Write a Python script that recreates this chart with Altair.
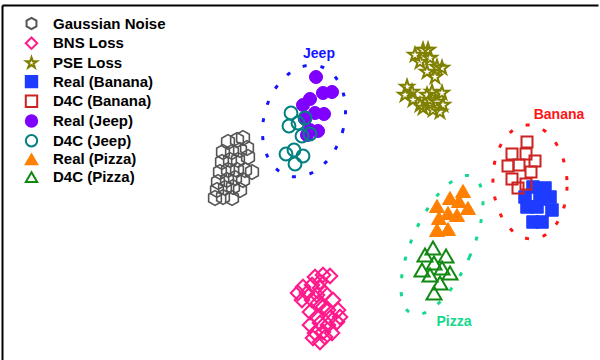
import altair as alt
import numpy as np
import pandas as pd

# ---------------- data ----------------
series_names = ["Gaussian Noise", "BNS Loss", "PSE Loss", "Real (Banana)", "D4C (Banana)",
                "Real (Jeep)", "D4C (Jeep)", "Real (Pizza)", "D4C (Pizza)"]

gauss_x = [228, 237, 243, 223, 232, 240, 247, 222, 230, 238, 248, 220, 228, 237, 245, 252, 218, 227, 235, 243, 217, 225, 233, 240, 215, 223, 232]
gauss_y = [142, 140, 138, 152, 152, 150, 148, 162, 160, 160, 157, 172, 170, 170, 170, 172, 182, 180, 178, 180, 190, 188, 187, 190, 198, 197, 198]

bns_x = [315, 323, 330, 320, 303, 312, 320, 298, 307, 317, 325, 302, 312, 333, 318, 323, 310, 328, 338, 317, 330, 340, 310, 320, 328, 337, 315, 323, 332, 320, 313, 325]
bns_y = [277, 275, 276, 282, 287, 285, 288, 293, 293, 295, 293, 300, 300, 300, 303, 307, 312, 310, 310, 317, 318, 317, 325, 323, 325, 322, 333, 332, 333, 342, 338, 337]

pse_x = [415, 423, 428, 420, 430, 437, 442, 427, 435, 407, 412, 405, 413, 420, 432, 442, 430, 437, 443, 423, 433, 440, 427]
pse_y = [55, 50, 50, 62, 58, 67, 68, 72, 77, 87, 92, 95, 100, 105, 92, 93, 100, 102, 105, 108, 110, 112, 95]

real_banana_x = [533, 545, 525, 550, 540, 527, 537, 552, 533, 542]
real_banana_y = [187, 188, 197, 197, 199, 207, 207, 210, 222, 222]

d4c_banana_x = [527, 512, 526, 535, 508, 519, 531, 512, 526, 518]
d4c_banana_y = [142, 154, 154, 161, 166, 165, 172, 179, 184, 188]

real_jeep_x = [316, 323, 332, 310, 303, 315, 324, 305, 310, 318, 307]
real_jeep_y = [77, 93, 92, 99, 105, 113, 114, 119, 130, 131, 135]

d4c_jeep_x = [291, 289, 298, 305, 302, 310, 286, 294, 303, 295]
d4c_jeep_y = [113, 126, 123, 118, 136, 134, 154, 150, 156, 164]

real_pizza_x = [463, 450, 459, 468, 437, 448, 457, 439, 437, 448]
real_pizza_y = [191, 198, 201, 208, 206, 213, 215, 218, 230, 229]

d4c_pizza_x = [433, 425, 446, 434, 422, 442, 430, 450, 440, 434]
d4c_pizza_y = [248, 255, 256, 263, 270, 268, 275, 273, 283, 293]

# cluster ellipses: centre, semi-axes, tilt (degrees from vertical)
ell_names = ["Jeep", "Banana", "Pizza"]
ell_cx = [304, 530, 442]
ell_cy = [121, 182, 245]
ell_major = [57, 57, 75]
ell_minor = [40, 37, 30]
ell_tilt = [16, -3, 24]
ell_colors = ["#1414ff", "#ff1414", "#14d88c"]

# cluster labels
lab_text = ["Jeep", "Banana", "Pizza"]
lab_x = [319, 559, 454]
lab_y = [54, 115, 322]

# ---------------- styles ----------------
hexagon = "M0,-1L0.866,-0.5L0.866,0.5L0,1L-0.866,0.5L-0.866,-0.5Z"
star = ("M0,-1L0.2245,-0.309L0.951,-0.309L0.363,0.118L0.588,0.809L0,0.382"
        "L-0.588,0.809L-0.363,0.118L-0.951,-0.309L-0.2245,-0.309Z")
shapes = [hexagon, "diamond", star, "square", "square", "circle", "circle", "triangle-up", "triangle-up"]
strokes = ["#555555", "#ff1a8c", "#808000", "#1e3cff", "#cc2222", "#8000ff", "#008080", "#ff8000", "#118811"]
fills = ["transparent", "transparent", "transparent", "#1e3cff", "transparent", "#8000ff", "transparent", "#ff8000", "transparent"]
sizes = [215, 210, 200, 155, 121, 170, 165, 225, 225]
widths = [1.6, 2, 2, 1, 2, 1, 2, 1, 2]

all_x = [gauss_x, bns_x, pse_x, real_banana_x, d4c_banana_x, real_jeep_x, d4c_jeep_x, real_pizza_x, d4c_pizza_x]
all_y = [gauss_y, bns_y, pse_y, real_banana_y, d4c_banana_y, real_jeep_y, d4c_jeep_y, real_pizza_y, d4c_pizza_y]

rows = []
k = 0
for i, name in enumerate(series_names):
    for xv, yv in zip(all_x[i], all_y[i]):
        rows.append({"series": name, "x": xv, "y": yv, "size": sizes[i], "sw": widths[i], "k": k})
        k += 1
pts = pd.DataFrame(rows)

erows = []
t = np.linspace(0, 2 * np.pi, 121)
for i, name in enumerate(ell_names):
    phi = np.radians(ell_tilt[i])
    a, b = ell_major[i], ell_minor[i]
    ex = ell_cx[i] + b * np.cos(t) * np.cos(phi) + a * np.sin(t) * np.sin(phi)
    ey = ell_cy[i] + b * np.cos(t) * np.sin(phi) - a * np.sin(t) * np.cos(phi)
    for j, (px, py) in enumerate(zip(ex, ey)):
        erows.append({"g": name, "x": float(px), "y": float(py), "i": j, "col": ell_colors[i]})
ell = pd.DataFrame(erows)

labels = pd.DataFrame({"text": lab_text, "x": lab_x, "y": lab_y, "col": ell_colors})

W, H = 596, 355
xs = alt.Scale(domain=[2, 598], nice=False, zero=False)
ys = alt.Scale(domain=[360, 5], nice=False, zero=False)
frame_axis = dict(domain=True, domainColor="black", domainWidth=2, ticks=False,
                  labels=False, grid=False, title=None)

ellipses = alt.Chart(ell).mark_line(strokeWidth=3, strokeDash=[4, 14], strokeCap="butt").encode(
    x=alt.X("x:Q", scale=xs, axis=alt.Axis(orient="top", **frame_axis)),
    y=alt.Y("y:Q", scale=ys, axis=alt.Axis(orient="left", **frame_axis)),
    detail="g:N",
    order="i:Q",
    stroke=alt.Stroke("col:N", scale=None),
)

points = alt.Chart(pts).mark_point(opacity=1, filled=False).encode(
    x=alt.X("x:Q", scale=xs),
    y=alt.Y("y:Q", scale=ys),
    shape=alt.Shape("series:N", scale=alt.Scale(domain=series_names, range=shapes),
                    sort=series_names, title=None),
    stroke=alt.Stroke("series:N", scale=alt.Scale(domain=series_names, range=strokes),
                      sort=series_names, title=None),
    fill=alt.Fill("series:N", scale=alt.Scale(domain=series_names, range=fills),
                  sort=series_names, title=None),
    size=alt.Size("size:Q", scale=None, legend=None),
    strokeWidth=alt.StrokeWidth("sw:Q", scale=None, legend=None),
    order="k:Q",
)

texts = alt.Chart(labels).mark_text(font="Liberation Sans", fontSize=14, fontWeight="bold").encode(
    x=alt.X("x:Q", scale=xs),
    y=alt.Y("y:Q", scale=ys),
    text="text:N",
    color=alt.Color("col:N", scale=None),
)

chart = alt.layer(ellipses, points, texts).properties(
    width=W, height=H,
    autosize=alt.AutoSizeParams(type="none"),
    padding={"left": 2, "top": 5, "right": 2, "bottom": 0},
).configure_view(stroke=None).configure_legend(
    orient="none", legendX=22, legendY=11, padding=0,
    labelFont="Liberation Sans", labelFontSize=15, labelFontWeight="bold", labelColor="black",
    symbolSize=130, symbolStrokeWidth=2, rowPadding=-1.3, labelOffset=14,
)

chart.save("out.html", embed_options={"renderer": "svg", "actions": False})
